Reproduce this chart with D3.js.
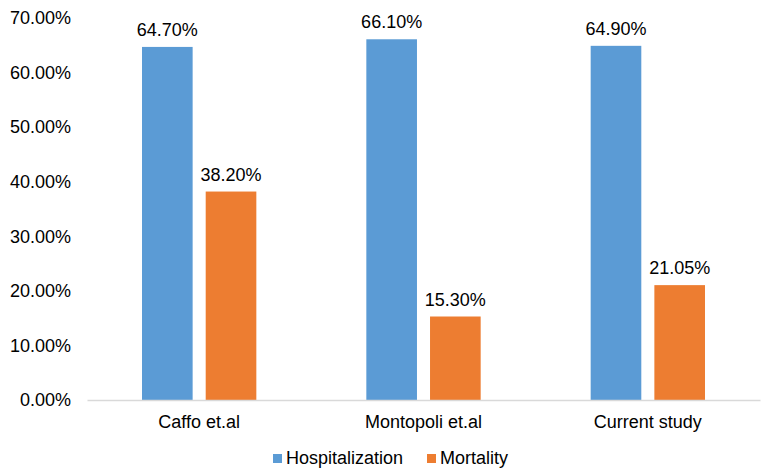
<!DOCTYPE html>
<html><head><meta charset="utf-8">
<script src="https://cdn.jsdelivr.net/npm/d3@7"></script>
<style>body{margin:0;background:#fff}svg{display:block;font-family:"Liberation Sans",Arial,sans-serif}</style>
</head><body>
<svg id="c" width="768" height="474"></svg>
<script>
const categories = ["Caffo et.al", "Montopoli et.al", "Current study"];
const seriesNames = ["Hospitalization", "Mortality"];
const hospitalization = [64.70, 66.10, 64.90];
const mortality = [38.20, 15.30, 21.05];
const valueLabels = [["64.70%", "38.20%"], ["66.10%", "15.30%"], ["64.90%", "21.05%"]];
const yTicks = [0, 10, 20, 30, 40, 50, 60, 70];
const colors = ["#5B9BD5", "#ED7D31"];

const FS = 18;
const svg = d3.select("#c");
const m = {left: 87, right: 760, top: 18, bottom: 400};
const x = d3.scaleBand().domain(categories).range([m.left, m.right]).paddingInner(0).paddingOuter(0);
const y = d3.scaleLinear().domain([0, 70]).range([m.bottom, m.top]);
const inner = d3.scaleBand().domain(seriesNames).range([55, x.bandwidth() - 55]).paddingInner(0.205).paddingOuter(0);

const data = categories.map((c, i) => ({cat: c, vals: [hospitalization[i], mortality[i]], labels: valueLabels[i]}));

// y axis labels
const yAxis = d3.axisLeft(y).tickValues(yTicks).tickFormat(d => d3.format(".2f")(d) + "%").tickSize(0).tickPadding(16);
const ga = svg.append("g").attr("transform", `translate(${m.left},0)`).call(yAxis);
ga.select(".domain").remove();
ga.selectAll("text").attr("font-size", FS).attr("fill", "#000").attr("font-family", "Liberation Sans, Arial, sans-serif");

// bars
const g = svg.selectAll("g.cat").data(data).join("g").attr("class", "cat").attr("transform", d => `translate(${x(d.cat)},0)`);
g.selectAll("rect").data(d => d.vals.map((v, j) => ({v, s: seriesNames[j], j, label: d.labels[j]}))).join("rect")
  .attr("x", d => inner(d.s)).attr("width", inner.bandwidth())
  .attr("y", d => y(d.v)).attr("height", d => y(0) - y(d.v))
  .attr("fill", d => colors[d.j]);
g.selectAll("text.val").data(d => d.vals.map((v, j) => ({v, s: seriesNames[j], label: d.labels[j]}))).join("text")
  .attr("class", "val")
  .attr("x", d => inner(d.s) + inner.bandwidth() / 2).attr("y", d => y(d.v) - 11)
  .attr("text-anchor", "middle").attr("font-size", FS).attr("fill", "#000")
  .text(d => d.label);

// x axis
const xAxis = d3.axisBottom(x).tickSize(0).tickPadding(15);
const gx = svg.append("g").attr("transform", `translate(0,${m.bottom})`).call(xAxis);
gx.select(".domain").attr("stroke", "#D9D9D9").attr("stroke-width", 1.3);
gx.selectAll("text").attr("font-size", FS).attr("fill", "#000").attr("font-family", "Liberation Sans, Arial, sans-serif");

// legend
const legendX = [273, 427];
const lg = svg.selectAll("g.leg").data(seriesNames).join("g").attr("class", "leg")
  .attr("transform", (d, i) => `translate(${legendX[i]},454)`);
lg.append("rect").attr("width", 9).attr("height", 9).attr("fill", (d, i) => colors[i]);
lg.append("text").attr("x", 13).attr("y", 9.5).attr("font-size", FS).attr("fill", "#000").text(d => d);
</script>
</body></html>
